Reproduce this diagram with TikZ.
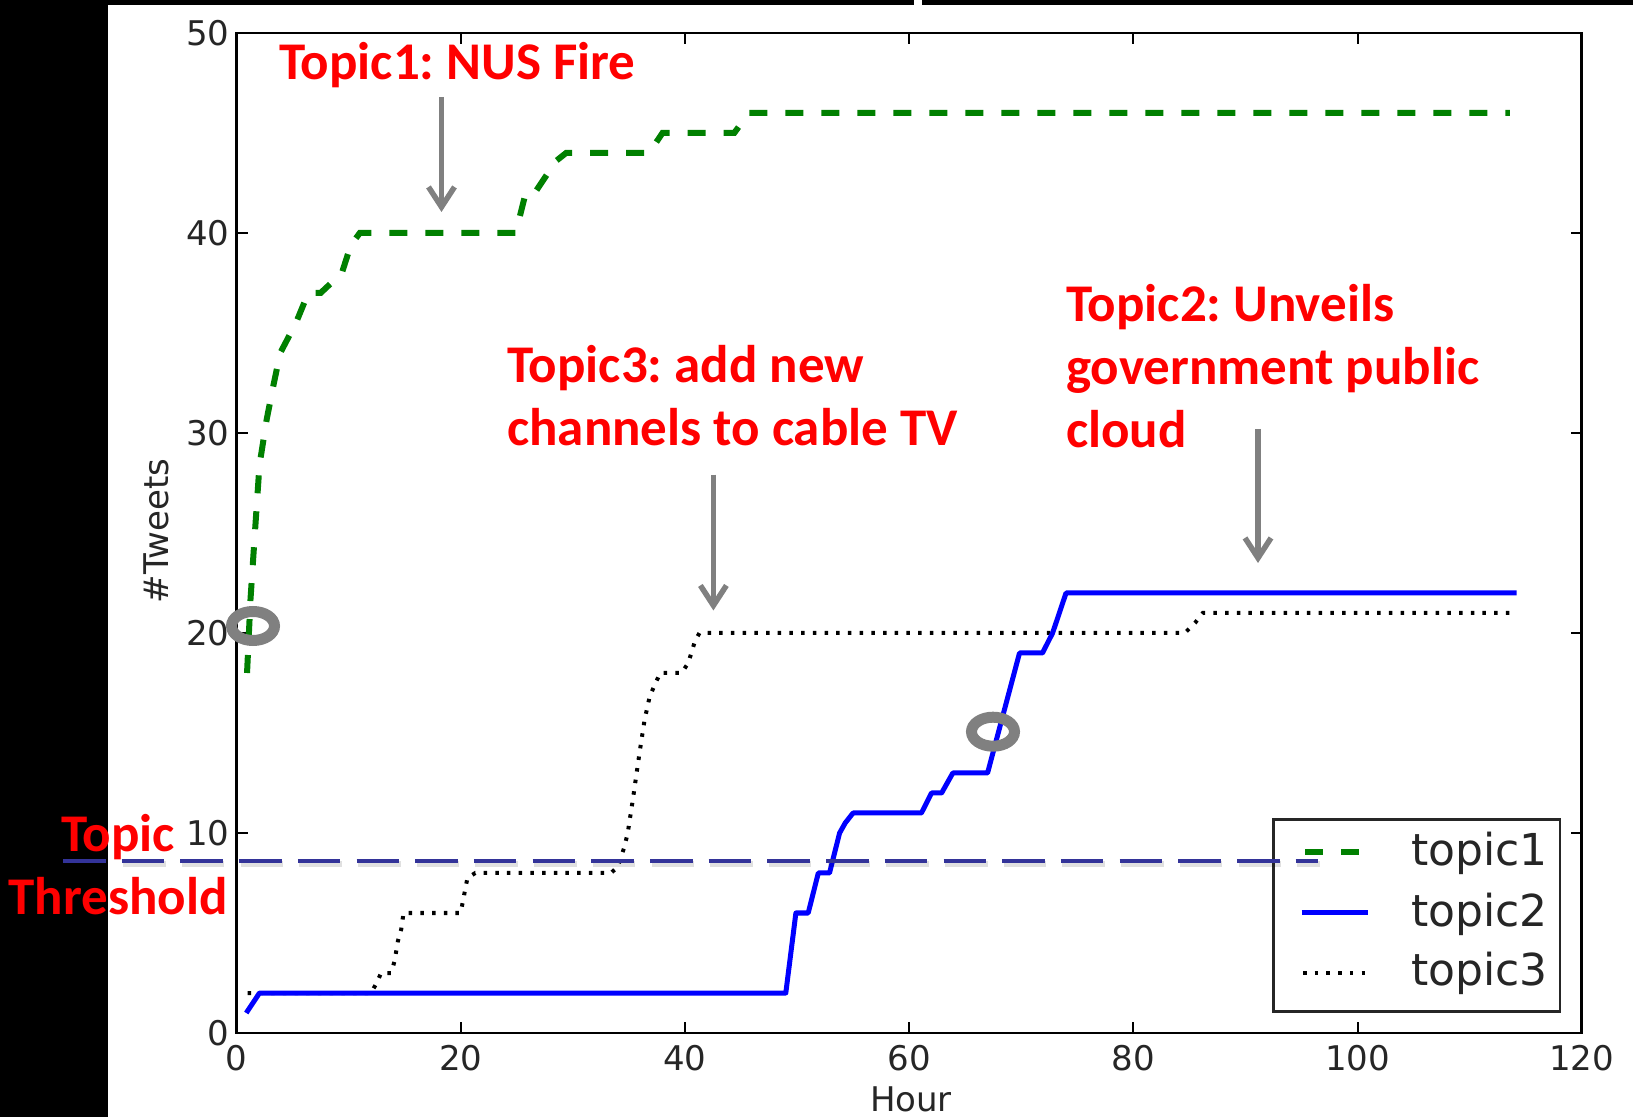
\documentclass[tikz,border=0pt]{standalone}
\usepackage{fontspec}
\usetikzlibrary{arrows.meta,shapes.geometric}
\newfontfamily\plotfont{DejaVu Sans}
\newfontfamily\notefont{Carlito}
\definecolor{tgreen}{RGB}{0,128,0}
\definecolor{tblue}{RGB}{0,0,255}
\definecolor{thrblue}{RGB}{51,51,153}
\definecolor{notegray}{RGB}{128,128,128}
\definecolor{notered}{RGB}{255,0,0}
\frenchspacing

\begin{document}
\begin{tikzpicture}[x=1pt,y=1pt,
  axisframe/.style={line width=2.5pt,draw=black},
  tickmark/.style={line width=2pt,draw=black},
  ticklab/.style={font=\plotfont\fontsize{34}{40}\selectfont,inner sep=0pt,text=black!85},
  axlab/.style={font=\plotfont\fontsize{34}{40}\selectfont,inner sep=0pt,text=black!85},
  leglab/.style={font=\plotfont\fontsize{44}{50}\selectfont,inner sep=0pt,text=black!85,anchor=base west},
  topicone/.style={draw=tgreen,line width=6pt,dash pattern=on 18pt off 18pt},
  topictwo/.style={draw=tblue,line width=5pt,line join=round},
  topicthree/.style={draw=black,line width=4pt,dash pattern=on 3.5pt off 8.2pt},
  thrline/.style={draw=thrblue,line width=4.5pt,dash pattern=on 42.5pt off 16.2pt},
  thrshadow/.style={draw=black,opacity=0.12,line width=6pt,dash pattern=on 42.5pt off 16.2pt},
  notearrow/.style={draw=notegray,line width=5.5pt,-{Straight Barb[length=20pt,width=26pt]}},
  ring/.style={draw=notegray,line width=11pt,ellipse,minimum width=43pt,minimum height=29pt,inner sep=0pt},
  note/.style={text=notered,font=\notefont\bfseries\fontsize{53}{63}\selectfont,inner sep=0pt}
]
\useasboundingbox (0,0) rectangle (1633,1117);
\fill[white] (0,0) rectangle (1633,1117);

% black border strips
\fill[black] (0,0) rectangle (108,1117);
\fill[black] (0,1112) rectangle (914,1117);
\fill[black] (922,1112) rectangle (1633,1117);

% axes frame
\draw[axisframe] (236.5,84) rectangle (1581.7,1084);

\begin{scope}[shift={(236.5,84)},x=11.21pt,y=20pt]
  % ticks and tick labels
  \foreach \h in {0,20,...,120} {
    \draw[tickmark] (\h,0) -- ++(0pt,11pt);
    \draw[tickmark] (\h,50) -- ++(0pt,-11pt);
    \node[ticklab,yshift=-25pt] at (\h,0) {\h};
  }
  \foreach \v in {0,10,...,50} {
    \draw[tickmark] (0,\v) -- ++(11pt,0pt);
    \draw[tickmark] (120,\v) -- ++(-11pt,0pt);
    \node[ticklab,anchor=east,xshift=-7pt] at (0,\v) {\v};
  }

  % topic3: dotted
  \draw[topicthree] (1.0,2) -- (12.0,2) -- (12.5,2.5) -- (12.9,3) -- (13.8,3)
    -- (14.1,3.6) -- (14.4,4.6) -- (14.7,5.2) -- (14.9,6) -- (20.0,6)
    -- (20.2,6.6) -- (20.6,7.75) -- (21.3,8) -- (33.4,8) -- (34.0,8.3)
    -- (34.6,9.3) -- (34.9,10) -- (35.35,11.65) -- (35.95,14) -- (36.4,15.65)
    -- (36.85,16.8) -- (37.3,17.4) -- (37.8,18) -- (39.7,18) -- (40.3,18.5)
    -- (40.9,19.6) -- (41.3,20) -- (84.6,20) -- (85.5,20.5) -- (86.2,21)
    -- (114,21);

  % topic2: solid
  \draw[topictwo] (0.87,1) -- (2.05,2) -- (49.0,2) -- (49.9,6) -- (51.0,6)
    -- (51.9,8) -- (52.9,8) -- (53.8,10) -- (54.3,10.5) -- (55.0,11) -- (61.1,11)
    -- (62.0,12) -- (62.9,12) -- (63.9,13) -- (67.0,13) -- (69.85,19)
    -- (71.9,19) -- (72.8,20) -- (74.0,22) -- (114.2,22);

  % topic1: dashed
  \draw[topicone] (0.94,18) -- (1.25,21.7) -- (1.7,25.5) -- (2.05,28.4)
    -- (2.7,30.7) -- (3.3,32.4) -- (3.9,34) -- (5.3,35.5) -- (6.4,37)
    -- (7.5,37) -- (9.4,38) -- (10.2,39.4) -- (11,40) -- (24.9,40)
    -- (25.8,42) -- (26.6,42) -- (28.5,43.6) -- (29.4,44) -- (36.8,44)
    -- (38,45) -- (44.4,45) -- (45.7,46) -- (113.6,46);
\end{scope}

% axis labels
\node[axlab] (xlab) at (911,18) {Hour};
\node[axlab,rotate=90] (ylab) at (156,586) {\#Tweets};

% legend
\draw[line width=2.5pt,draw=black!85,fill=white] (1273.3,105.3) rectangle (1560,297.7);
\coordinate (l1a) at (1305,264.7);  \coordinate (l1b) at (1359,264.7);
\coordinate (l2a) at (1301.7,204.3); \coordinate (l2b) at (1368.3,204.3);
\coordinate (l3a) at (1303,144.3);  \coordinate (l3b) at (1367,144.3);
\draw[topicone] (l1a) -- (l1b);
\draw[topictwo] (l2a) -- (l2b);
\draw[topicthree] (l3a) -- (l3b);
\node[leglab] (lt1) at (1411,251.3) {topic1};
\node[leglab] (lt2) at (1411,190.3) {topic2};
\node[leglab] (lt3) at (1411,132) {topic3};

% threshold line with soft shadow
\coordinate (thrA) at (63,256);
\coordinate (thrB) at (1318,256);
\draw[thrshadow,transform canvas={xshift=1.5pt,yshift=-3.5pt}] (thrA) -- (thrB);
\draw[thrline] (thrA) -- (thrB);

% pointer arrows
\coordinate (a1s) at (441.5,1020);   \coordinate (a1e) at (441.5,905);
\coordinate (a3s) at (713.4,642.4);  \coordinate (a3e) at (713.4,506.5);
\coordinate (a2s) at (1258,688);     \coordinate (a2e) at (1258,554);
\draw[notearrow] (a1s) -- (a1e);
\draw[notearrow] (a3s) -- (a3e);
\draw[notearrow] (a2s) -- (a2e);

% highlight rings
\node[ring] (ring1) at (253,491) {};
\node[ring] (ring2) at (993,385.3) {};

% annotations (multi-line nodes are placed by their last baseline)
\node[note,anchor=base west] (n1) at (279,1037) {Topic1: NUS Fire};
\node[note,anchor=base west,align=left] (n3) at (507,671) {Topic3: add new\\channels to cable TV};
\node[note,anchor=base west,align=left] (n2) at (1066,669) {Topic2: Unveils\\government public\\cloud};
\node[note,anchor=base,align=center] (nthr) at (118,202) {Topic\\Threshold};
\end{tikzpicture}
\end{document}
